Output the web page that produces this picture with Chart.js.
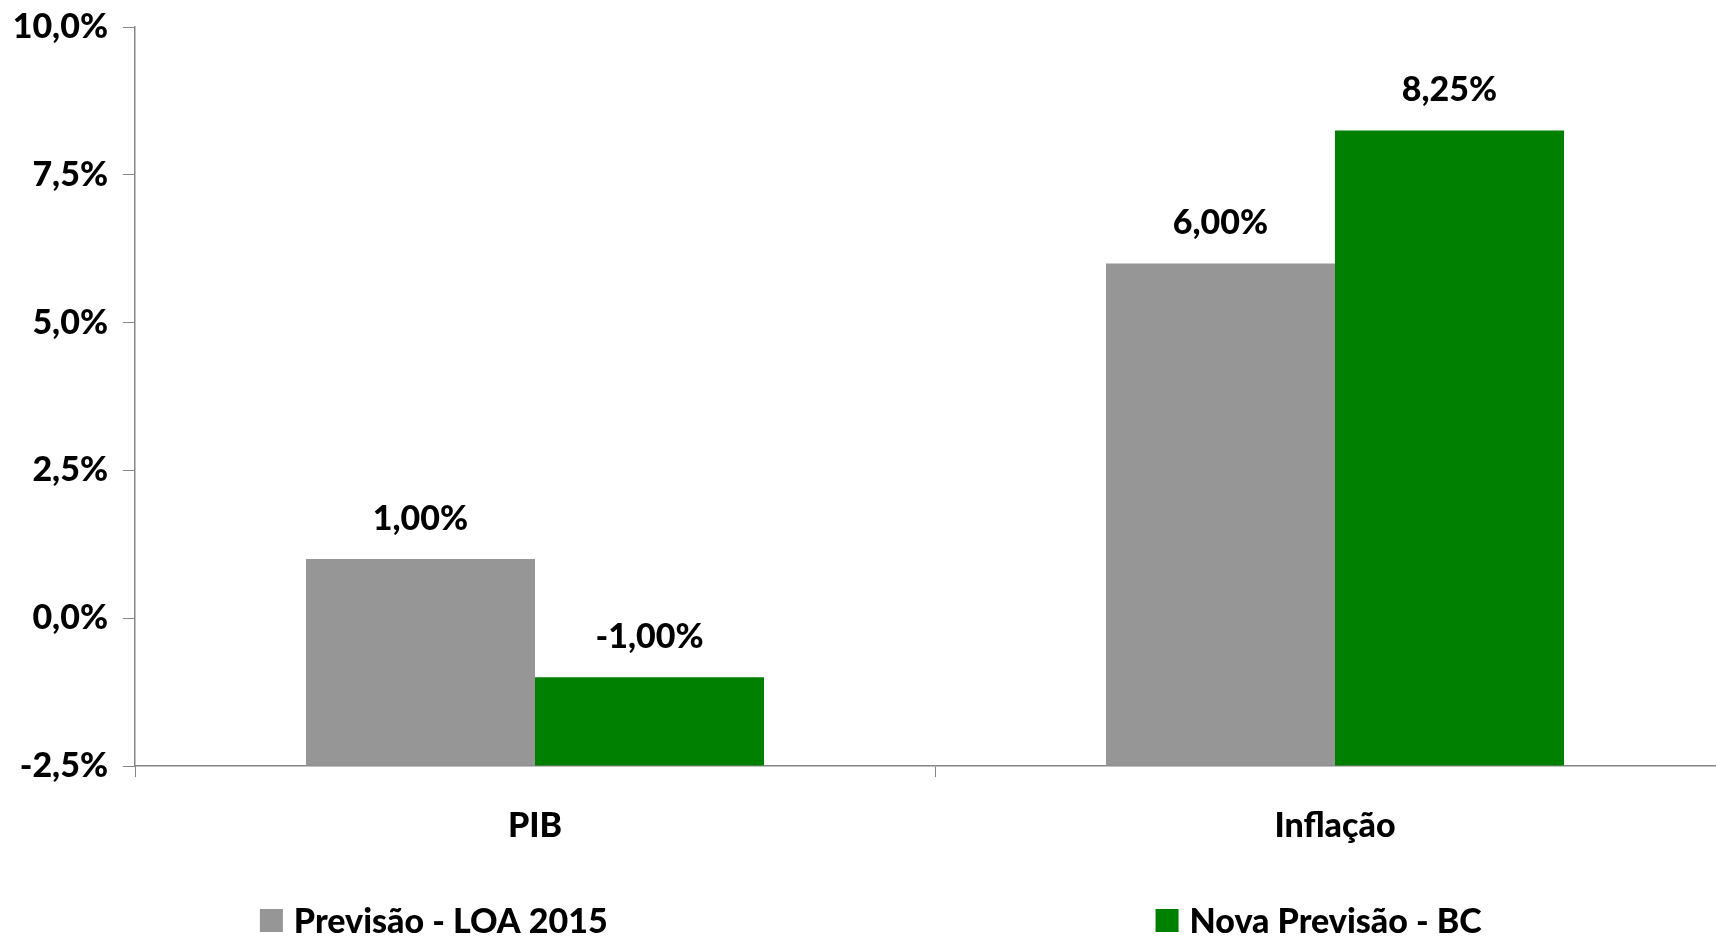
<!DOCTYPE html>
<html lang="pt-BR">
<head>
<meta charset="utf-8">
<title>PIB e Inflação</title>
<script src="https://cdn.jsdelivr.net/npm/chart.js@4.4.1/dist/chart.umd.min.js"></script>
<style>
    html, body { margin: 0; padding: 0; background: #fff; overflow: hidden; }
    .chart-box { width: 1735px; height: 938px; position: relative; }
</style>
</head>
<body>
<div class="chart-box">
    <canvas id="forecastChart"></canvas>
</div>
<script>
const CATEGORIES = ['PIB', 'Inflação'];
const SERIES_NAMES = ['Previsão - LOA 2015', 'Nova Previsão - BC'];
const LOA_VALUES = [1.00, 6.00];
const BC_VALUES = [-1.00, 8.25];
const Y_TICKS = [-2.5, 0, 2.5, 5, 7.5, 10];

const GRAY = '#969696';
const GREEN = '#008000';
const AXIS_COLOR = '#868686';
const FONT = 'Lato';
const FONT_SIZE = 34;

function formatPercent(value, decimals)
{
    return value.toFixed(decimals).replace('.', ',') + '%';
}

const valueLabels = {
    id: 'valueLabels',
    afterDatasetsDraw(chart)
    {
        const ctx = chart.ctx;

        ctx.save();
        ctx.font = `900 ${FONT_SIZE}px ${FONT}`;
        ctx.fillStyle = '#000';
        ctx.textAlign = 'center';
        ctx.textBaseline = 'middle';

        chart.data.datasets.forEach((ds, i) => {
            chart.getDatasetMeta(i).data.forEach((bar, j) => {
                ctx.fillText(formatPercent(ds.data[j], 2), bar.x, bar.y - 40);
            });
        });

        ctx.restore();
    }
};

// legend entries spread over two columns, like the original
const spreadLegend = {
    id: 'spreadLegend',
    afterDraw(chart)
    {
        const ctx = chart.ctx;
        const centers = [0.25, 0.76];
        const y = chart.height - 17;

        ctx.save();
        ctx.font = `900 ${FONT_SIZE}px ${FONT}`;
        ctx.textBaseline = 'middle';
        ctx.textAlign = 'left';

        chart.data.datasets.forEach((ds, i) => {
            const textW = ctx.measureText(ds.label).width;
            const itemW = 23 + 11 + textW;
            const x0 = chart.width * centers[i] - itemW / 2;

            ctx.fillStyle = ds.backgroundColor;
            ctx.fillRect(x0, y - 12, 23, 23);
            ctx.fillStyle = '#000';
            ctx.fillText(ds.label, x0 + 34, y + 1);
        });

        ctx.restore();
    }
};

const forecastCtx = document.getElementById('forecastChart').getContext('2d');

let forecastChart = new Chart(forecastCtx, {
    type: 'bar',
    data: {
        labels: CATEGORIES,
        datasets: [
            {
                label: SERIES_NAMES[0],
                data: LOA_VALUES,
                base: Y_TICKS[0],
                backgroundColor: GRAY,
                categoryPercentage: 0.5725,
                barPercentage: 1.0
            },
            {
                label: SERIES_NAMES[1],
                data: BC_VALUES,
                base: Y_TICKS[0],
                backgroundColor: GREEN,
                categoryPercentage: 0.5725,
                barPercentage: 1.0
            }
        ]
    },
    options: {
        responsive: true,
        maintainAspectRatio: false,
        animation: false,
        layout: { padding: { top: 27, left: 0, right: 0, bottom: 0 } },
        plugins: {
            legend: { display: false },
            tooltip: { enabled: false }
        },
        scales: {
            y: {
                min: Y_TICKS[0],
                max: Y_TICKS[Y_TICKS.length - 1],
                afterBuildTicks: scale => { scale.ticks = Y_TICKS.map(v => ({ value: v })); },
                afterFit: scale => {
                    scale.width = 135;
                    scale.paddingTop = 0;
                    scale.paddingBottom = 0;
                },
                ticks: {
                    color: '#000',
                    font: { family: FONT, size: FONT_SIZE, weight: '900' },
                    padding: 15,
                    callback: v => formatPercent(v, 1)
                },
                grid: {
                    drawOnChartArea: false,
                    tickLength: 12,
                    tickColor: AXIS_COLOR,
                    color: AXIS_COLOR
                },
                border: { color: AXIS_COLOR, width: 1.5 }
            },
            x: {
                afterFit: scale => { scale.height = 172; },
                ticks: {
                    color: '#000',
                    font: { family: FONT, size: FONT_SIZE, weight: '900' },
                    padding: 29
                },
                grid: {
                    offset: true,
                    drawOnChartArea: false,
                    tickLength: 11,
                    tickColor: AXIS_COLOR,
                    color: AXIS_COLOR
                },
                border: { color: AXIS_COLOR, width: 1.5 }
            }
        }
    },
    plugins: [valueLabels, spreadLegend]
});
</script>
</body>
</html>
